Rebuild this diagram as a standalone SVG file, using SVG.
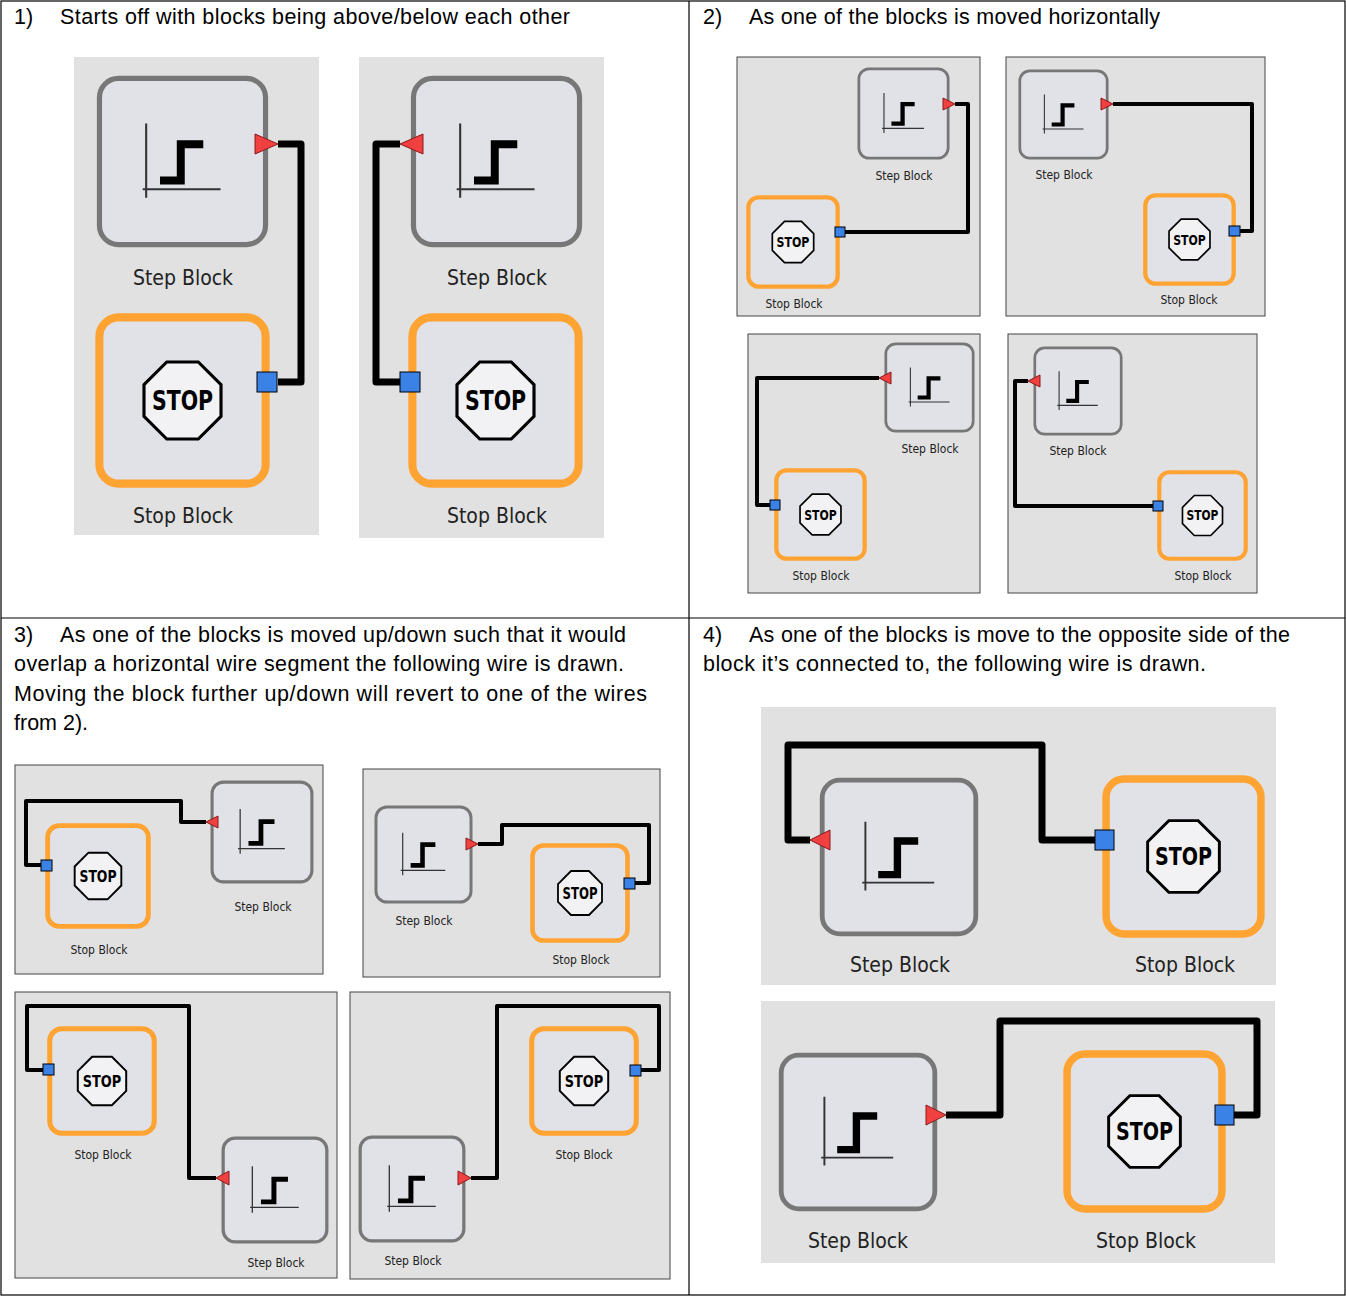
<svg xmlns="http://www.w3.org/2000/svg" xmlns:xlink="http://www.w3.org/1999/xlink" width="1346" height="1296" viewBox="0 0 1346 1296">
<style>
.bg{fill:#e1e1e1}
.bgb{fill:#e1e1e1;stroke:#444;stroke-width:1}
.w{fill:none;stroke:#000;stroke-width:7;stroke-linejoin:round}
.ws{fill:none;stroke:#000;stroke-width:4;stroke-linejoin:round}
.tri{fill:#f0403f;stroke:#8a1a1a;stroke-width:1}
.sq{fill:#3b82e6;stroke:#000;stroke-width:1}
.hd{font-family:"Liberation Sans",Arial,sans-serif;font-size:21.5px;fill:#000}
.lb{font-family:"DejaVu Sans Condensed","DejaVu Sans",sans-serif;font-size:21px;fill:#222;text-anchor:middle}
.ls{font-family:"DejaVu Sans Condensed","DejaVu Sans",sans-serif;font-size:12px;fill:#222;text-anchor:middle}
.grid{stroke:#000;stroke-width:1.2}
</style>
<defs>
<g id="step">
<rect x="2" y="2" width="96" height="96" rx="11" fill="#e1e1e8" stroke="#777" stroke-width="3"/>
<path d="M29 28V71M27 66H72" stroke="#333" stroke-width="1.2" fill="none"/>
<path d="M37 61H49V40H62" stroke="#000" stroke-width="4.6" fill="none"/>
</g>
<g id="stop">
<rect x="2.5" y="2.5" width="95" height="95" rx="11" fill="#e1e1e8" stroke="#ffa333" stroke-width="4.6"/>
<polygon points="41,28 59,28 72,41 72,59 59,72 41,72 28,59 28,41" fill="#f2f2f4" stroke="#000" stroke-width="1.8"/>
<text x="50" y="55.5" font-family="DejaVu Sans Condensed,DejaVu Sans,sans-serif" font-weight="bold" font-size="15" text-anchor="middle" fill="#000" textLength="35" lengthAdjust="spacingAndGlyphs">STOP</text>
</g>
</defs>
<rect width="1346" height="1296" fill="#fff"/>
<g id="grid">
<rect x="1" y="1" width="1344" height="1294" fill="none" class="grid"/>
<line x1="689" y1="1" x2="689" y2="1295" class="grid"/>
<line x1="1" y1="618" x2="1345" y2="618" class="grid"/>
</g>
<g id="headers">
<text class="hd" x="14" y="24">1)</text><text class="hd" x="60" y="24" textLength="510">Starts off with blocks being above/below each other</text>
<text class="hd" x="703" y="24">2)</text><text class="hd" x="749" y="24" textLength="411">As one of the blocks is moved horizontally</text>
<text class="hd" x="14" y="642">3)</text><text class="hd" x="60" y="642" textLength="566">As one of the blocks is moved up/down such that it would</text>
<text class="hd" x="14" y="671" textLength="610">overlap a horizontal wire segment the following wire is drawn.</text>
<text class="hd" x="14" y="701" textLength="633">Moving the block further up/down will revert to one of the wires</text>
<text class="hd" x="14" y="730">from 2).</text>
<text class="hd" x="703" y="642">4)</text><text class="hd" x="749" y="642" textLength="541">As one of the blocks is move to the opposite side of the</text>
<text class="hd" x="703" y="671" textLength="503">block it’s connected to, the following wire is drawn.</text>
</g>
<g id="backgrounds">
<rect class="bg" x="74" y="57" width="245" height="478"/>
<rect class="bg" x="359" y="57" width="245" height="481"/>
<rect class="bgb" x="737" y="57" width="243" height="259"/>
<rect class="bgb" x="1006" y="57" width="259" height="259"/>
<rect class="bgb" x="748" y="334" width="232" height="259"/>
<rect class="bgb" x="1008" y="334" width="249" height="259"/>
<rect class="bgb" x="15" y="765" width="308" height="209"/>
<rect class="bgb" x="363" y="769" width="297" height="208"/>
<rect class="bgb" x="15" y="992" width="322" height="286"/>
<rect class="bgb" x="350" y="992" width="320" height="287"/>
<rect class="bg" x="761" y="707" width="515" height="278"/>
<rect class="bg" x="761" y="1001" width="514" height="262"/>
</g>
<g id="connectors">
<polyline class="w" points="278,144 301,144 301,382 278,382"/>
<polyline class="w" points="400,144 376,144 376,382 400,382"/>
<polyline class="ws" points="955,104 968,104 968,232 845,232"/>
<polyline class="ws" points="1113,104 1252,104 1252,231 1240,231"/>
<polyline class="ws" points="879,378 757,378 757,505 770,505"/>
<polyline class="ws" points="1028,381 1015,381 1015,506 1153,506"/>
<polyline class="ws" points="206,822 181,822 181,801 26,801 26,865 41,865"/>
<polyline class="ws" points="478,844 502,844 502,825 649,825 649,883 635,883"/>
<polyline class="ws" points="216,1178 189,1178 189,1006 27,1006 27,1070 43,1070"/>
<polyline class="ws" points="471,1178 497,1178 497,1006 659,1006 659,1070 641,1070"/>
<polyline class="w" points="810,840 788,840 788,745 1042,745 1042,840 1095,840"/>
<polyline class="w" points="946,1115 1000,1115 1000,1021 1257,1021 1257,1115 1234,1115"/>
</g>
<g id="p1a-step"><use href="#step" transform="translate(96,75) scale(1.73)"/><text class="lb" x="183" y="285">Step Block</text><polygon class="tri" points="255,134 278,144 255,154"/></g>
<g id="p1a-stop"><use href="#stop" transform="translate(95,313) scale(1.75)"/><text class="lb" x="183" y="523">Stop Block</text><rect class="sq" x="257" y="372" width="20" height="20"/></g>
<g id="p1b-step"><use href="#step" transform="translate(410,75) scale(1.73)"/><text class="lb" x="497" y="285">Step Block</text><polygon class="tri" points="423,134 400,144 423,154"/></g>
<g id="p1b-stop"><use href="#stop" transform="translate(408,313) scale(1.75)"/><text class="lb" x="497" y="523">Stop Block</text><rect class="sq" x="400" y="372" width="20" height="20"/></g>
<g id="p2a-step"><use href="#step" transform="translate(857,67) scale(0.93)"/><text class="ls" x="904" y="180">Step Block</text><polygon class="tri" points="943,98 955,104 943,110"/></g>
<g id="p2a-stop"><use href="#stop" transform="translate(746,195) scale(0.94)"/><text class="ls" x="794" y="308">Stop Block</text><rect class="sq" x="835" y="227" width="10" height="10"/></g>
<g id="p2b-step"><use href="#step" transform="translate(1018,69) scale(0.91)"/><text class="ls" x="1064" y="179">Step Block</text><polygon class="tri" points="1101,98 1113,104 1101,110"/></g>
<g id="p2b-stop"><use href="#stop" transform="translate(1143,193) scale(0.93)"/><text class="ls" x="1189" y="304">Stop Block</text><rect class="sq" x="1229" y="226" width="11" height="10"/></g>
<g id="p2c-step"><use href="#step" transform="translate(884,342) scale(0.91)"/><text class="ls" x="930" y="453">Step Block</text><polygon class="tri" points="891,372 879,378 891,384"/></g>
<g id="p2c-stop"><use href="#stop" transform="translate(774,468) scale(0.93)"/><text class="ls" x="821" y="580">Stop Block</text><rect class="sq" x="770" y="500" width="10" height="10"/></g>
<g id="p2d-step"><use href="#step" transform="translate(1033,346) scale(0.9)"/><text class="ls" x="1078" y="455">Step Block</text><polygon class="tri" points="1040,375 1028,381 1040,387"/></g>
<g id="p2d-stop"><use href="#stop" transform="translate(1157,470) scale(0.91)"/><text class="ls" x="1203" y="580">Stop Block</text><rect class="sq" x="1153" y="501" width="10" height="10"/></g>
<g id="p3a-stop"><use href="#stop" transform="translate(45,823) scale(1.06)"/><text class="ls" x="99" y="954" font-size="14">Stop Block</text><rect class="sq" x="41" y="860" width="11" height="11"/></g>
<g id="p3a-step"><use href="#step" transform="translate(210,780) scale(1.04)"/><text class="ls" x="263" y="911" font-size="14">Step Block</text><polygon class="tri" points="218,816 206,822 218,828"/></g>
<g id="p3b-step"><use href="#step" transform="translate(374,805) scale(0.99)"/><text class="ls" x="424" y="925" font-size="14">Step Block</text><polygon class="tri" points="466,838 478,844 466,850"/></g>
<g id="p3b-stop"><use href="#stop" transform="translate(530,843) scale(1.0)"/><text class="ls" x="581" y="964" font-size="14">Stop Block</text><rect class="sq" x="624" y="878" width="11" height="11"/></g>
<g id="p3c-stop"><use href="#stop" transform="translate(47,1026) scale(1.1)"/><text class="ls" x="103" y="1159" font-size="14">Stop Block</text><rect class="sq" x="43" y="1064" width="11" height="11"/></g>
<g id="p3c-step"><use href="#step" transform="translate(221,1136) scale(1.08)"/><text class="ls" x="276" y="1267" font-size="14">Step Block</text><polygon class="tri" points="229,1171 216,1178 229,1185"/></g>
<g id="p3d-stop"><use href="#stop" transform="translate(529,1026) scale(1.1)"/><text class="ls" x="584" y="1159" font-size="14">Stop Block</text><rect class="sq" x="630" y="1065" width="11" height="11"/></g>
<g id="p3d-step"><use href="#step" transform="translate(358,1135) scale(1.08)"/><text class="ls" x="413" y="1265" font-size="14">Step Block</text><polygon class="tri" points="458,1171 471,1178 458,1185"/></g>
<g id="p4a-step"><use href="#step" transform="translate(819,777) scale(1.6)"/><text class="lb" x="900" y="972">Step Block</text><polygon class="tri" points="830,830 810,840 830,850"/></g>
<g id="p4a-stop"><use href="#stop" transform="translate(1102,775) scale(1.63)"/><text class="lb" x="1185" y="972">Stop Block</text><rect class="sq" x="1095" y="830" width="19" height="20"/></g>
<g id="p4b-step"><use href="#step" transform="translate(778,1052) scale(1.6)"/><text class="lb" x="858" y="1248">Step Block</text><polygon class="tri" points="926,1105 946,1115 926,1125"/></g>
<g id="p4b-stop"><use href="#stop" transform="translate(1063,1050) scale(1.63)"/><text class="lb" x="1146" y="1248">Stop Block</text><rect class="sq" x="1215" y="1105" width="19" height="20"/></g>
</svg>
